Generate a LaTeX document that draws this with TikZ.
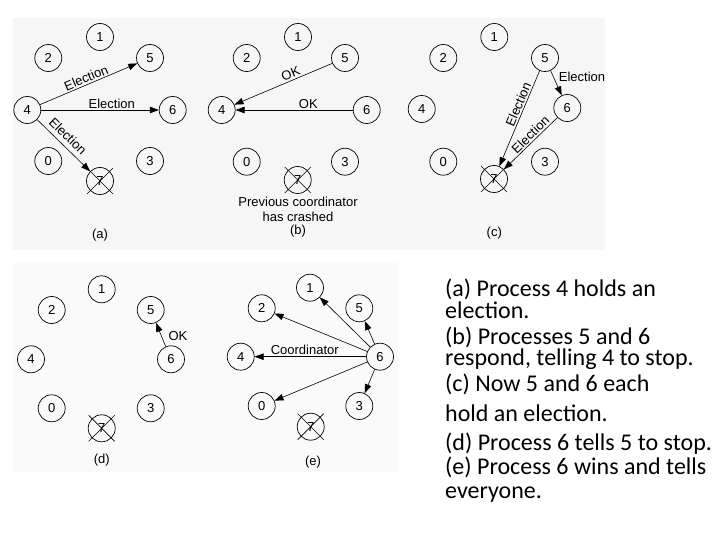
\documentclass[tikz,border=0pt]{standalone}
\usepackage{fontspec}
\setmainfont{Liberation Sans}
\newfontfamily\calib{Carlito}
\usetikzlibrary{arrows.meta}
\definecolor{panelA}{RGB}{246,246,246}
\definecolor{panelB}{RGB}{250,250,250}
\newcommand{\xout}[1]{%
  \draw[line width=0.6pt] ([shift={(-13,-13)}]#1.center) -- ([shift={(13,13)}]#1.center);
  \draw[line width=0.6pt] ([shift={(-13,13)}]#1.center) -- ([shift={(13,-13)}]#1.center);}
\begin{document}
\begin{tikzpicture}[x=1pt,y=-1pt,
  proc/.style={circle,draw,line width=0.7pt,minimum size=27pt,inner sep=0pt,font=\fontsize{13}{13}\selectfont},
  msg/.style={-{Triangle[length=9pt,width=6.5pt]},line width=0.6pt},
  lab/.style={font=\fontsize{13}{14}\selectfont,inner sep=1.5pt},
  captxt/.style={font=\fontsize{13}{14}\selectfont,inner sep=0pt},
  note/.style={font=\calib\fontsize{24}{24}\selectfont,anchor=base west,inner sep=0pt}]
\useasboundingbox (0,0) rectangle (720,540);
\fill[panelA] (13,18) rectangle (605,250);
\fill[panelB] (13,263) rectangle (398,472);

% ---------- panel (a)
\node[proc] (a1) at (100,37) {1};
\node[proc] (a2) at (48.3,58) {2};
\node[proc] (a5) at (150,58) {5};
\node[proc] (a4) at (27.3,110) {4};
\node[proc] (a6) at (172.7,110) {6};
\node[proc] (a0) at (48.3,161) {0};
\node[proc] (a3) at (150,161) {3};
\node[proc] (a7) at (100,181) {7};
\xout{a7}
\draw[msg] (a4) -- node[lab,sloped,above,pos=0.5] {Election} (a5);
\draw[msg] (a4) -- node[lab,above,pos=0.6] {Election} (a6);
\draw[msg] (a4) -- (a7);
\node[lab,rotate=-44.3] (l47) at (68,136) {Election};
\node[captxt] (capa) at (100,235) {(a)};

% ---------- panel (b)
\node[proc] (b1) at (298,37) {1};
\node[proc] (b2) at (246.7,58) {2};
\node[proc] (b5) at (345,58) {5};
\node[proc] (b4) at (221.7,110) {4};
\node[proc] (b6) at (366.7,110) {6};
\node[proc] (b0) at (246.7,161.7) {0};
\node[proc] (b3) at (345,161.7) {3};
\node[proc] (b7) at (297.7,180) {7};
\xout{b7}
\draw[msg] (b5) -- node[lab,sloped,above,pos=0.4] {OK} (b4);
\draw[msg] (b6) -- node[lab,above,pos=0.38] {OK} (b4);
\node[captxt] (prev) at (298,201.7) {Previous coordinator};
\node[captxt] (crash) at (298,216.7) {has crashed};
\node[captxt] (capb) at (298,231) {(b)};

% ---------- panel (c)
\node[proc] (c1) at (494.3,37) {1};
\node[proc] (c2) at (443.3,58) {2};
\node[proc] (c5) at (545,58) {5};
\node[proc] (c4) at (421.7,109) {4};
\node[proc] (c6) at (567.3,108) {6};
\node[proc] (c0) at (443.3,161.7) {0};
\node[proc] (c3) at (545,161.7) {3};
\node[proc] (c7) at (494,179) {7};
\xout{c7}
\draw[msg] (c5) -- node[lab,sloped,above,pos=0.38] {Election} (c7);
\draw[msg] (c5) -- (c6);
\node[lab] (lc56) at (582,76.7) {Election};
\draw[msg] (c6) -- node[lab,sloped,above,pos=0.42] {Election} (c7);
\node[captxt] (capc) at (494.3,233) {(c)};

% ---------- panel (d)
\node[proc] (d1) at (101.7,289.3) {1};
\node[proc] (d2) at (51.7,310) {2};
\node[proc] (d5) at (150.7,310) {5};
\node[proc] (d4) at (31,359.3) {4};
\node[proc] (d6) at (171,359.3) {6};
\node[proc] (d0) at (51.7,408.3) {0};
\node[proc] (d3) at (150.7,408.3) {3};
\node[proc] (d7) at (101.7,428.3) {7};
\xout{d7}
\draw[msg] (d6) -- (d5);
\node[lab] (okd) at (178,336) {OK};
\node[captxt] (capd) at (101.7,460) {(d)};

% ---------- panel (e)
\node[proc] (e1) at (310,287.7) {1};
\node[proc] (e2) at (261.7,308.3) {2};
\node[proc] (e5) at (359.3,308.3) {5};
\node[proc] (e4) at (240.7,356.7) {4};
\node[proc] (e6) at (380,356.7) {6};
\node[proc] (e0) at (261.7,406) {0};
\node[proc] (e3) at (359.3,406) {3};
\node[proc] (e7) at (310.7,426.7) {7};
\xout{e7}
\draw[msg] (e6) -- (e1);
\draw[msg] (e6) -- (e2);
\draw[msg] (e6) -- node[lab,above,pos=0.55] {Coordinator} (e4);
\draw[msg] (e6) -- (e0);
\draw[msg] (e6) -- (e5);
\draw[msg] (e6) -- (e3);
\node[captxt] (cape) at (313,461.7) {(e)};

% ---------- text
\node[note] (t1) at (445,296.7) {(a) Process 4 holds an};
\node[note] (t2) at (445,318) {election.};
\node[note] (t3) at (445,344) {(b) Processes 5 and 6};
\node[note] (t4) at (445,365) {respond, telling 4 to stop.};
\node[note] (t5) at (445,391.7) {(c) Now 5 and 6 each};
\node[note] (t6) at (445,421.7) {hold an election.};
\node[note] (t7) at (445,450) {(d) Process 6 tells 5 to stop.};
\node[note] (t8) at (445,474) {(e) Process 6 wins and tells};
\node[note] (t9) at (445,498) {everyone.};
\end{tikzpicture}
\end{document}
